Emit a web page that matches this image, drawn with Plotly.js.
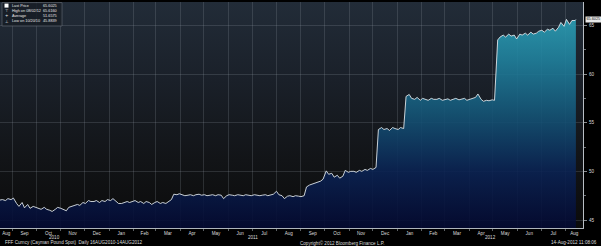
<!DOCTYPE html>
<html>
<head>
<meta charset="utf-8">
<script src="https://cdn.plot.ly/plotly-3.0.1.min.js"></script>
<style>
  html, body { margin: 0; padding: 0; background: #000; }
  #wrap { position: relative; width: 601px; height: 246px; background: #000; overflow: hidden; }
  #bg { position: absolute; left: 0; top: 2px; width: 583px; height: 226px;
        background: linear-gradient(to bottom, #222c38 0%, #1a2029 35%, #121417 70%, #0b0b0b 100%); }
  #chart { position: absolute; left: 0; top: 0; width: 601px; height: 246px; }
</style>
</head>
<body>
<div id="wrap"><div id="bg"></div><div id="chart"></div></div>
<script>
// ---- data ----
const startDate = '2010-08-16';   // first observation (Mon)
const lastDate = '2012-08-14';    // last observation
const axisEnd = '2012-08-23';
// values sampled on Mondays and Thursdays, then the final day
const lastPrice = [
  47.05, 47.10, 47.00, 47.20, 47.10, 47.25, 46.70, 46.40, 46.80, 46.25,
  46.60, 46.20, 46.40, 46.30, 46.20, 46.10, 46.30, 46.10, 46.00, 45.88,
  46.10, 46.30, 46.20, 46.10, 45.95, 46.30, 46.40, 46.50, 46.60, 46.50,
  46.80, 46.70, 47.00, 46.90, 46.90, 47.00, 46.80, 47.00, 46.90, 47.10,
  47.00, 47.20, 46.90, 46.70, 46.70, 46.80, 46.90, 46.80, 46.90, 47.00,
  46.80, 46.90, 46.70, 46.90, 46.80, 46.60, 46.80, 46.90, 46.70, 46.80,
  46.70, 46.90, 47.10, 47.65, 47.60, 47.70, 47.60, 47.50, 47.55, 47.60,
  47.50, 47.60, 47.65, 47.55, 47.60, 47.50, 47.55, 47.60, 47.50, 47.60,
  47.55, 47.20, 47.50, 47.60, 47.55, 47.50, 47.60, 47.55, 47.50, 47.60,
  47.55, 47.50, 47.60, 47.55, 47.50, 47.55, 47.60, 47.50, 47.55, 47.65,
  47.95, 47.60, 47.50, 47.20, 47.45, 47.50, 47.40, 47.50, 47.45, 47.40,
  47.50, 48.40, 48.60, 48.70, 48.80, 48.90, 49.00, 49.20, 50.05, 49.70,
  49.80, 49.40, 49.60, 49.30, 49.50, 50.10, 49.90, 50.00, 50.00, 49.90,
  50.10, 50.00, 50.20, 50.10, 50.30, 50.20, 50.40, 54.30, 54.50, 54.30,
  54.40, 54.20, 54.50, 54.40, 54.30, 54.50, 54.40, 57.70, 57.90, 57.50,
  57.40, 57.60, 57.30, 57.50, 57.40, 57.30, 57.50, 57.40, 57.40, 57.50,
  57.30, 57.40, 57.45, 57.30, 57.40, 57.50, 57.35, 57.40, 57.50, 57.30,
  57.40, 57.50, 57.60, 57.95, 57.40, 57.20, 57.30, 57.25, 57.35, 57.30,
  63.50, 63.80, 64.00, 63.80, 64.10, 63.90, 64.00, 63.60, 64.10, 64.00,
  64.20, 64.00, 64.30, 64.10, 64.20, 64.40, 64.50, 64.30, 64.60, 64.50,
  64.70, 64.40, 64.80, 65.30, 64.90, 65.616, 65.10, 65.50, 65.50, 65.6025
];
const monthNames = ['Aug','Sep','Oct','Nov','Dec','Jan','Feb','Mar','Apr','May','Jun','Jul',
                    'Aug','Sep','Oct','Nov','Dec','Jan','Feb','Mar','Apr','May','Jun','Jul','Aug'];
const yearLabels = ['2010','2011','2012'];
const legendLabels = ['Last Price','High on 08/02/12','Average','Low on 10/20/10'];
const legendValues = ['65.6025','65.6160','51.6575','45.8839'];
const legendSymbols = ['', '\u22A4', '+', '\u22A5'];
const footerLeft = 'FFF Curncy (Cayman Pound Spot)  Daily 16AUG2010-14AUG2012';
const footerMid = 'Copyright\u00A9 2012 Bloomberg Finance L.P.';
const footerRight = '14-Aug-2012 11:08:06';

// ---- build dates (Mon / Thu sampling) ----
function addDays(iso, n) {
  const d = new Date(iso + 'T00:00:00Z'); d.setUTCDate(d.getUTCDate() + n);
  return d.toISOString().slice(0, 10);
}
const dates = [];
for (let i = 0; i < lastPrice.length - 1; i++) {
  const w = Math.floor(i / 2);
  dates.push(addDays(startDate, 7 * w + (i % 2 ? 3 : 0)));
}
dates.push(lastDate);

// ---- month grid / label positions ----
const t0 = Date.parse(startDate + 'T00:00:00Z'), t1 = Date.parse(axisEnd + 'T00:00:00Z');
const iso = t => new Date(t).toISOString().slice(0, 10);
const monthStarts = [], monthMids = [];
for (let k = 0; k < monthNames.length; k++) {
  const ms = Date.UTC(2010, 7 + k, 1), me = Date.UTC(2010, 8 + k, 1);
  if (ms > t0) monthStarts.push(iso(ms));
  const a = Math.max(ms, t0), b = Math.min(me, t1);
  monthMids.push(new Date((a + b) / 2).toISOString().slice(0, 19));
}
const yearMids = yearLabels.map(y => {
  const a = Math.max(Date.UTC(+y, 0, 1), t0), b = Math.min(Date.UTC(+y + 1, 0, 1), t1);
  return new Date((a + b) / 2).toISOString().slice(0, 19);
});

// ---- layout helpers (pixel -> paper) ----
const PL = 0, PR = 583, PT = 2, PB = 228;
const px = x => (x - PL) / (PR - PL);
const py = y => (PB - y) / (PB - PT);
const FONT = 'Liberation Sans, Arial, sans-serif';
const txt = '#dcdcdc';
const grid = 'rgba(150,160,172,0.30)';

const traces = [
  {
    x: dates, y: lastPrice, type: 'scatter', mode: 'lines',
    line: { color: '#dde3e8', width: 0.9 },
    fill: 'tozeroy',
    fillgradient: {
      type: 'vertical', start: 44.18, stop: 67.4,
      colorscale: [[0, 'rgba(4,10,50,0.9)'], [0.25, 'rgba(10,34,82,0.9)'], [0.5, 'rgba(20,84,118,0.9)'],
                   [0.75, 'rgba(32,130,158,0.9)'], [1, 'rgba(48,170,190,0.9)']]
    },
    hoverinfo: 'skip', showlegend: false
  },
  { x: [dates[0]], y: [null], xaxis: 'x2', yaxis: 'y', type: 'scatter', mode: 'lines',
    hoverinfo: 'skip', showlegend: false }
];

const annotations = [];
// year labels
yearLabels.forEach((y, i) => annotations.push({
  x: yearMids[i], xref: 'x', y: py(237.6), yref: 'paper', text: y, showarrow: false,
  xanchor: 'center', yanchor: 'middle', font: { family: FONT, size: 4.6, color: txt }
}));
// footer
annotations.push({ x: px(2.5), xref: 'paper', y: py(242.6), yref: 'paper', text: footerLeft, showarrow: false,
  xanchor: 'left', yanchor: 'middle', font: { family: FONT, size: 4.6, color: txt } });
annotations.push({ x: px(342), xref: 'paper', y: py(242.6), yref: 'paper', text: footerMid, showarrow: false,
  xanchor: 'center', yanchor: 'middle', font: { family: FONT, size: 4.6, color: txt } });
annotations.push({ x: px(599), xref: 'paper', y: py(242.6), yref: 'paper', text: footerRight, showarrow: false,
  xanchor: 'right', yanchor: 'middle', font: { family: FONT, size: 4.6, color: txt } });
// legend
legendLabels.forEach((l, i) => {
  const yy = py(5.6 + i * 5.2);
  annotations.push({ x: px(10), xref: 'paper', y: yy, yref: 'paper', text: l, showarrow: false,
    xanchor: 'left', yanchor: 'middle', font: { family: FONT, size: 3.8, color: '#e6e6e6' } });
  annotations.push({ x: px(59), xref: 'paper', y: yy, yref: 'paper', text: legendValues[i], showarrow: false,
    xanchor: 'right', yanchor: 'middle', font: { family: FONT, size: 3.8, color: '#e6e6e6' } });
  if (legendSymbols[i]) annotations.push({ x: px(6.5), xref: 'paper', y: yy, yref: 'paper', text: legendSymbols[i],
    showarrow: false, xanchor: 'center', yanchor: 'middle', font: { family: 'DejaVu Sans', size: 4.0, color: '#e6e6e6' } });
});
// last price tag
annotations.push({ x: px(584.5), xref: 'paper', y: lastPrice[lastPrice.length - 1], yref: 'y', text: legendValues[0],
  showarrow: false, xanchor: 'left', yanchor: 'middle', bgcolor: '#e8e8e8', borderpad: 0.4,
  font: { family: FONT, size: 3.8, color: '#111' } });

const shapes = [
  { type: 'rect', xref: 'paper', yref: 'paper', x0: px(2), x1: px(62), y0: py(26), y1: py(2.6),
    line: { color: '#6a7078', width: 0.6 }, fillcolor: 'rgba(22,28,36,0.85)' },
  { type: 'rect', xref: 'paper', yref: 'paper', x0: px(4.5), x1: px(8.5), y0: py(7.6), y1: py(3.6),
    line: { width: 0 }, fillcolor: '#ffffff' }
];

const layout = {
  width: 601, height: 246,
  margin: { l: PL, r: 601 - PR, t: PT, b: 246 - PB, pad: 0 },
  paper_bgcolor: 'rgba(0,0,0,0)', plot_bgcolor: 'rgba(0,0,0,0)',
  font: { family: FONT, size: 4.6, color: txt },
  showlegend: false,
  xaxis: {
    type: 'date', range: [startDate, axisEnd], tickmode: 'array', tickvals: monthStarts,
    showticklabels: false, ticks: 'outside', ticklen: 2, tickwidth: 0.6, tickcolor: '#9aa0a6',
    showgrid: true, gridcolor: grid, gridwidth: 0.7,
    showline: true, linecolor: '#aeb4ba', linewidth: 1, zeroline: false, fixedrange: true
  },
  xaxis2: {
    type: 'date', overlaying: 'x', side: 'bottom', anchor: 'y', range: [startDate, axisEnd],
    tickmode: 'array', tickvals: monthMids, ticktext: monthNames, ticks: '',
    showgrid: false, showline: false, zeroline: false, ticklabelstandoff: 1,
    tickfont: { family: FONT, size: 4.6, color: txt }
  },
  yaxis: {
    side: 'right', range: [44.18, 67.4], tick0: 0, dtick: 5,
    ticks: 'outside', ticklen: 3, tickwidth: 0.7, tickcolor: '#c4c8cc',
    minor: { dtick: 2.5, ticks: 'outside', ticklen: 2, tickcolor: '#9aa0a6', showgrid: false },
    showgrid: true, gridcolor: grid, gridwidth: 0.7,
    showline: true, linecolor: '#b8bec4', linewidth: 1, zeroline: false,
    tickfont: { family: FONT, size: 4.6, color: txt }, ticklabelstandoff: 1
  },
  annotations: annotations, shapes: shapes
};

Plotly.newPlot('chart', traces, layout, { staticPlot: true, displayModeBar: false });
</script>
</body>
</html>
